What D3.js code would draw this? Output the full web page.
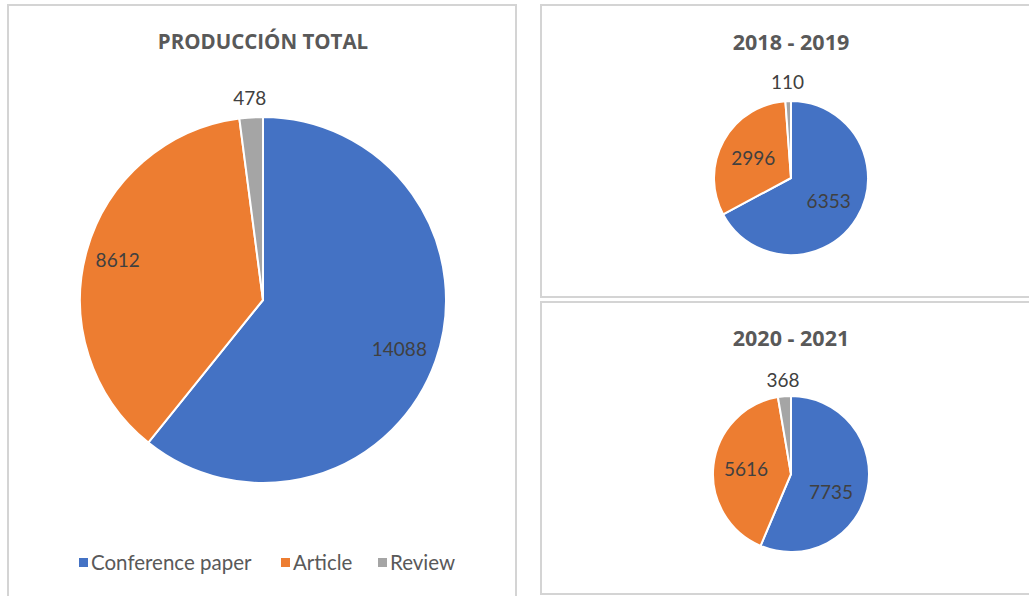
<!DOCTYPE html>
<html>
<head>
<meta charset="utf-8">
<script src="https://cdn.jsdelivr.net/npm/d3@7"></script>
<style>
  html, body { margin: 0; padding: 0; background: #ffffff; }
  svg { display: block; }
</style>
</head>
<body>
<svg id="chart" width="1029" height="596"></svg>
<script>
// ---- Data ----
const categories = ["Conference paper", "Article", "Review"];
const colors = ["#4472C4", "#ED7D31", "#A5A5A5"];
const totalValues = [14088, 8612, 478];
const values2018_2019 = [6353, 2996, 110];
const values2020_2021 = [7735, 5616, 368];
const panelTitles = ["PRODUCCIÓN TOTAL", "2018 - 2019", "2020 - 2021"];

const svg = d3.select("#chart");
const FONT = "'Open Sans', 'DejaVu Sans', sans-serif";
const LABEL_FONT = "Lato, 'Open Sans', sans-serif";

// Panel frames
const panels = [
  {x: 8, y: 5, w: 508, h: 600},
  {x: 541, y: 5, w: 500, h: 292},
  {x: 541, y: 302, w: 500, h: 292}
];
svg.selectAll("rect.panel").data(panels).enter().append("rect")
  .attr("class", "panel")
  .attr("x", d => d.x).attr("y", d => d.y)
  .attr("width", d => d.w).attr("height", d => d.h)
  .attr("fill", "#ffffff")
  .attr("stroke", "#d4d4d4").attr("stroke-width", 2);

const color = d3.scaleOrdinal().domain(categories).range(colors);

function drawPie(values, cx, cy, r, title, titleY, titleSize, labelPos) {
  const g = svg.append("g").attr("transform", `translate(${cx},${cy})`);
  const data = categories.map((c, i) => ({cat: c, value: values[i]}));
  const pie = d3.pie().value(d => d.value).sort(null);
  const arcs = pie(data);
  const arc = d3.arc().innerRadius(0).outerRadius(r);
  g.selectAll("path").data(arcs).enter().append("path")
    .attr("d", arc)
    .attr("fill", d => color(d.data.cat))
    .attr("stroke", "#ffffff")
    .attr("stroke-width", 2)
    .attr("stroke-linejoin", "round");

  // labels
  g.selectAll("text.lbl").data(arcs).enter().append("text")
    .attr("class", "lbl")
    .attr("transform", (d, i) => {
      const mid = (d.startAngle + d.endAngle) / 2;
      const [k, dx, dy] = labelPos[i];
      return `translate(${Math.sin(mid) * r * k + dx},${-Math.cos(mid) * r * k + dy})`;
    })
    .attr("text-anchor", "middle")
    .attr("dominant-baseline", "central")
    .attr("font-family", LABEL_FONT)
    .attr("font-size", 19)
    .attr("fill", "#404040")
    .text(d => d.data.value);

  svg.append("text")
    .attr("x", cx).attr("y", titleY)
    .attr("text-anchor", "middle")
    .attr("dominant-baseline", "central")
    .attr("font-family", FONT)
    .attr("font-weight", "bold")
    .attr("font-size", titleSize)
    .attr("fill", "#595959")
    .text(title);
}

drawPie(totalValues, 263, 300, 183, panelTitles[0], 41, 20.5,
  [[0.79, 0, 0], [0.825, 0, 0], [1.12, 0, 2]]);
drawPie(values2018_2019, 791, 178, 77, panelTitles[1], 41, 21.5,
  [[0.57, 0, 0], [0.56, 0, 0], [1.25, 0, 0]]);
drawPie(values2020_2021, 791, 474, 78, panelTitles[2], 337, 21.5,
  [[0.55, -2, 9], [0.58, 0, 0], [1.22, 0, 0]]);

// Legend
const legendItems = [
  {x: 79, cat: categories[0]},
  {x: 281, cat: categories[1]},
  {x: 378, cat: categories[2]}
];
const lg = svg.append("g");
lg.selectAll("rect").data(legendItems).enter().append("rect")
  .attr("x", d => d.x).attr("y", 558)
  .attr("width", 9).attr("height", 9)
  .attr("fill", d => color(d.cat));
lg.selectAll("text").data(legendItems).enter().append("text")
  .attr("x", d => d.x + 12).attr("y", 562)
  .attr("dominant-baseline", "central")
  .attr("font-family", LABEL_FONT)
  .attr("font-size", 20.5)
  .attr("fill", "#595959")
  .text(d => d.cat);
</script>
</body>
</html>
